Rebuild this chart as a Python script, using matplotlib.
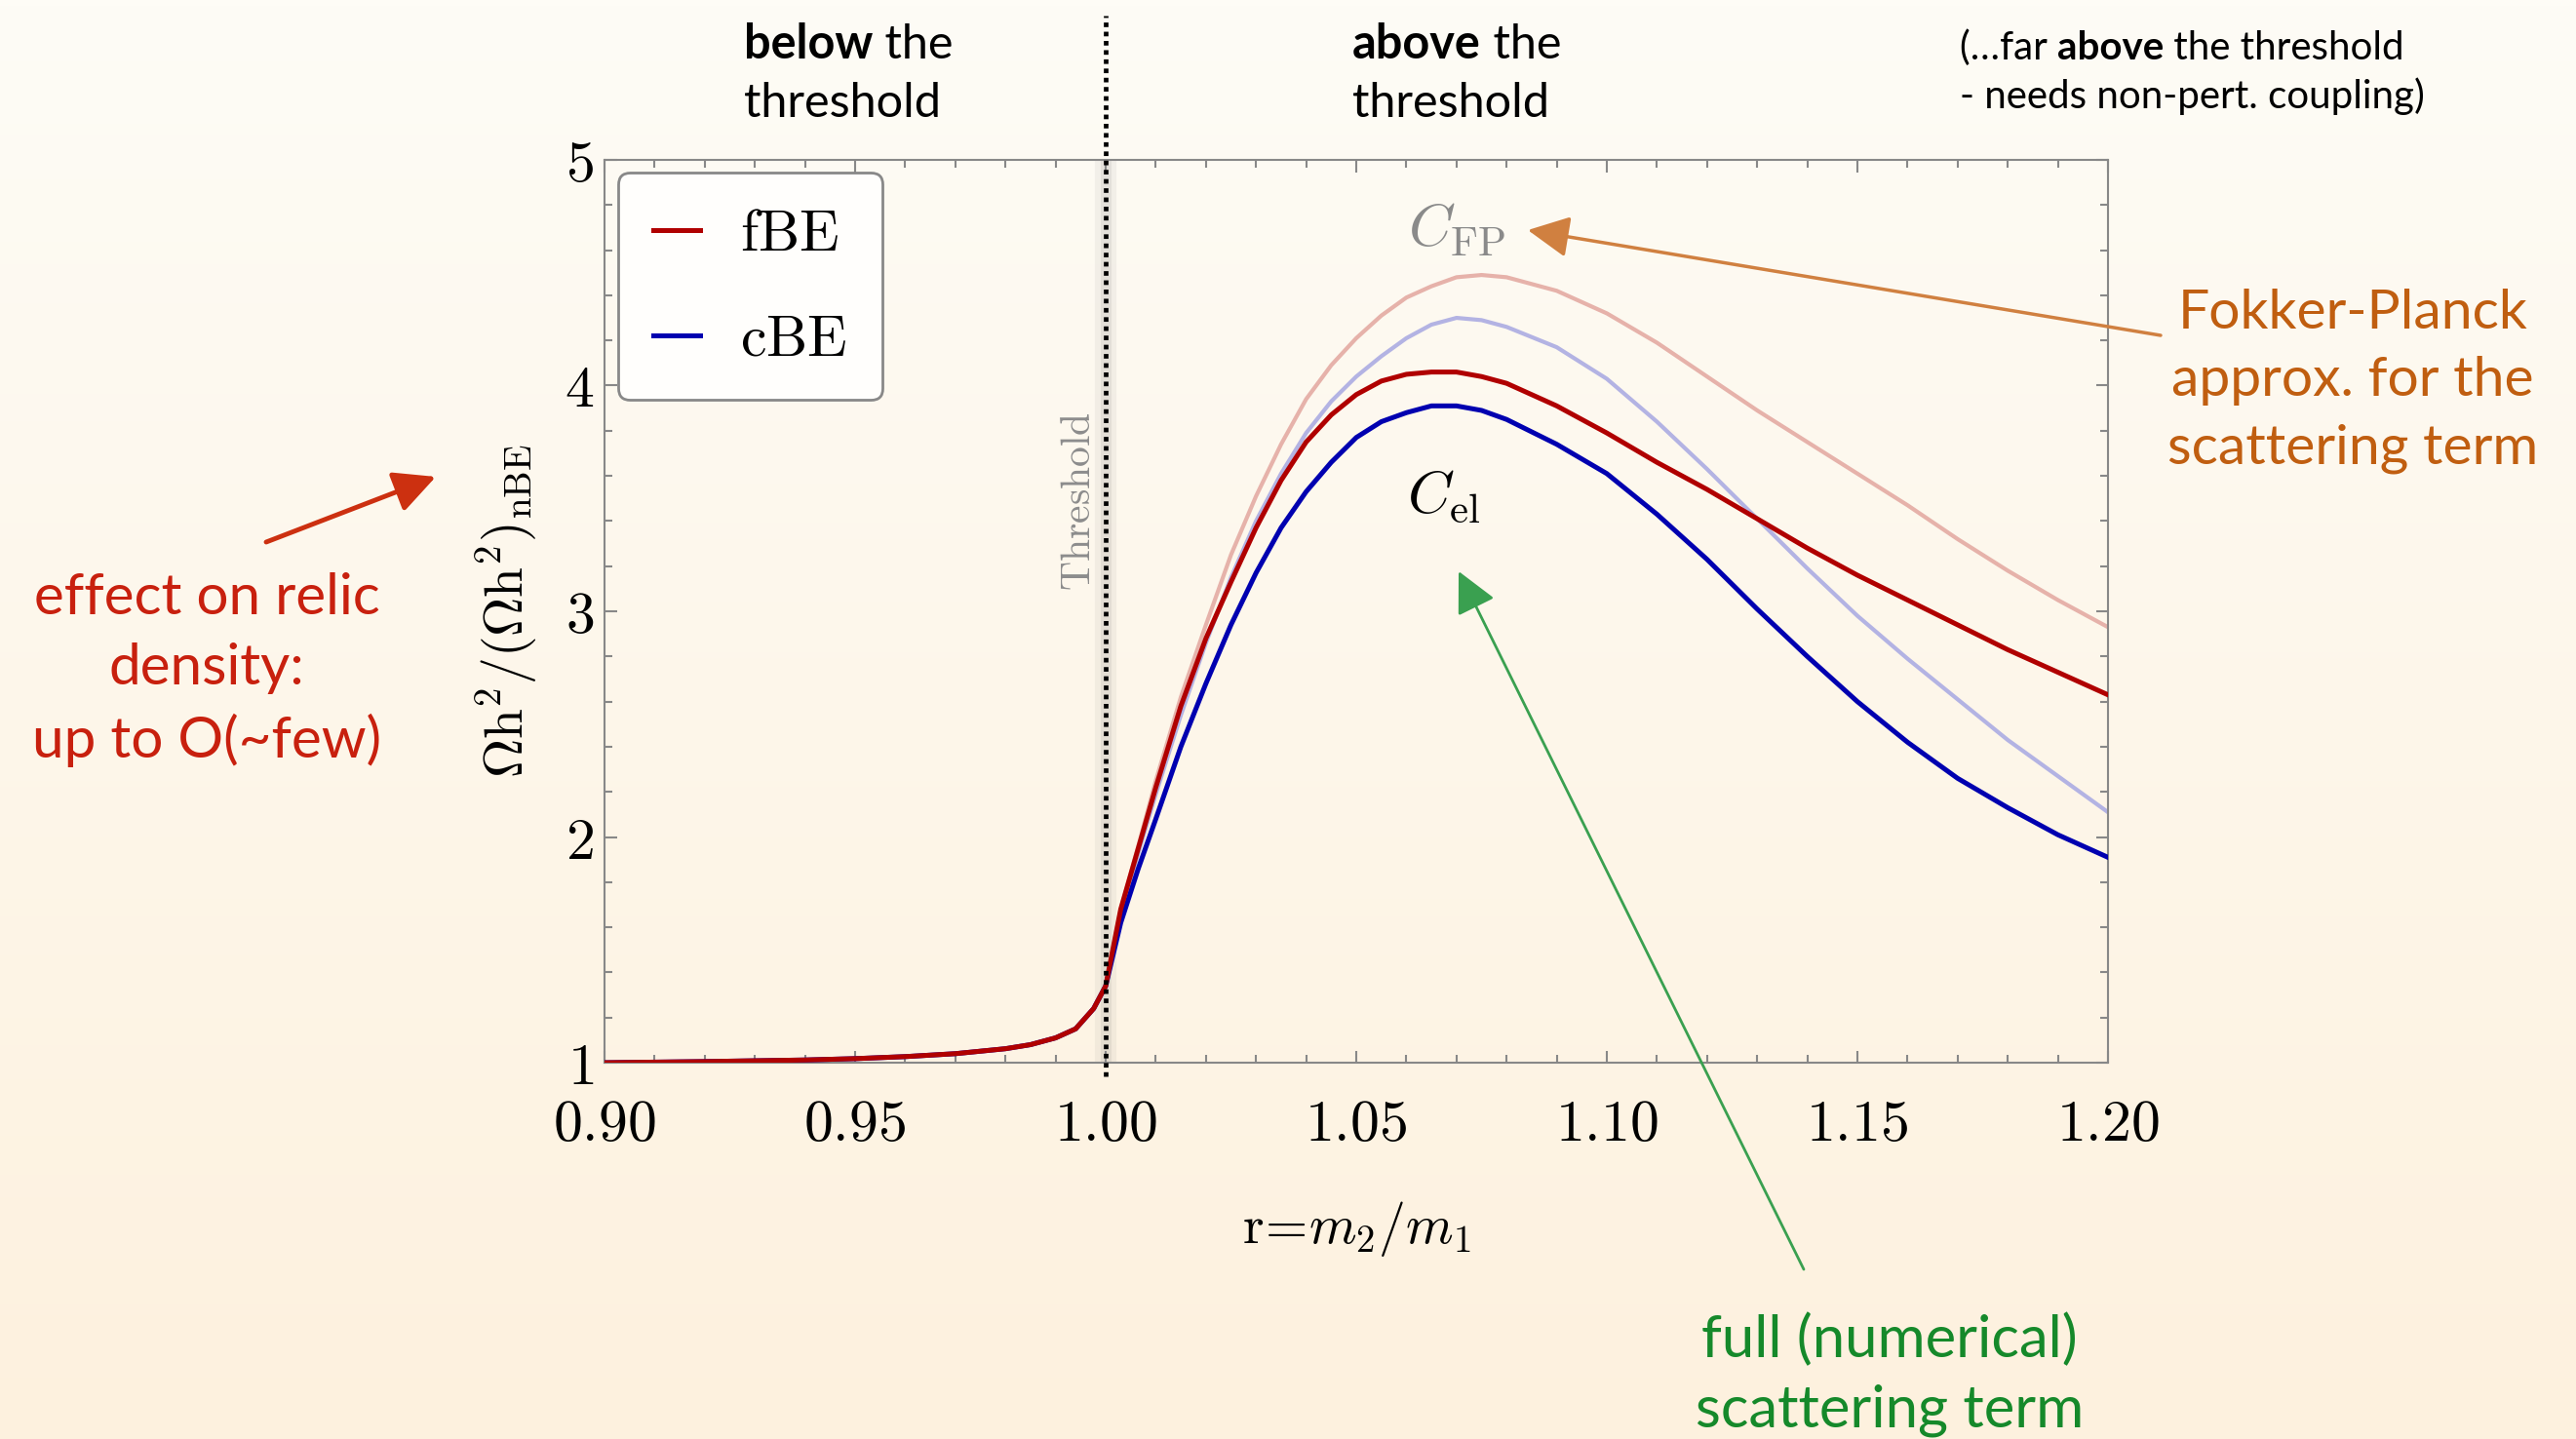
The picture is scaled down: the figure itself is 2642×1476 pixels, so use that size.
import numpy as np
import matplotlib
matplotlib.use("Agg")
import matplotlib.pyplot as plt
from matplotlib.lines import Line2D
from matplotlib.ticker import MultipleLocator, FormatStrFormatter

plt.rcParams['mathtext.fontset'] = 'cm'
plt.rcParams['font.family'] = ['Lato', 'DejaVu Sans']

# below the threshold all curves coincide
r_below = [0.90, 0.92, 0.94, 0.95, 0.96, 0.97, 0.98, 0.985, 0.99, 0.994, 0.9976, 1.000]
y_below = [1.00, 1.005, 1.012, 1.018, 1.027, 1.04, 1.062, 1.08, 1.11, 1.15, 1.24, 1.34]

# above the threshold
r_above = [1.003, 1.0065, 1.01, 1.015, 1.02, 1.025, 1.03, 1.035, 1.04, 1.045,
           1.05, 1.055, 1.06, 1.065, 1.07, 1.075, 1.08, 1.09, 1.10, 1.11,
           1.12, 1.13, 1.14, 1.15, 1.16, 1.17, 1.18, 1.19, 1.20]
fbe_el = [1.68, 1.95, 2.22, 2.58, 2.88, 3.13, 3.37, 3.58, 3.75, 3.87,
          3.96, 4.02, 4.05, 4.06, 4.06, 4.04, 4.01, 3.91, 3.79, 3.66,
          3.54, 3.41, 3.28, 3.16, 3.05, 2.94, 2.83, 2.73, 2.63]
cbe_el = [1.62, 1.86, 2.08, 2.40, 2.68, 2.94, 3.17, 3.37, 3.53, 3.66,
          3.77, 3.84, 3.88, 3.91, 3.91, 3.89, 3.85, 3.74, 3.61, 3.43,
          3.23, 3.01, 2.80, 2.60, 2.42, 2.26, 2.13, 2.01, 1.91]
fbe_fp = [1.68, 1.96, 2.25, 2.62, 2.94, 3.25, 3.51, 3.74, 3.94, 4.09,
          4.21, 4.31, 4.39, 4.44, 4.48, 4.49, 4.48, 4.42, 4.32, 4.19,
          4.04, 3.89, 3.75, 3.61, 3.47, 3.32, 3.18, 3.05, 2.93]
cbe_fp = [1.66, 1.93, 2.19, 2.54, 2.86, 3.15, 3.40, 3.61, 3.79, 3.93,
          4.04, 4.13, 4.21, 4.27, 4.30, 4.29, 4.26, 4.17, 4.03, 3.84,
          3.63, 3.41, 3.19, 2.98, 2.79, 2.61, 2.43, 2.27, 2.11]

x_ticks = [0.90, 0.95, 1.00, 1.05, 1.10, 1.15, 1.20]
y_ticks = [1, 2, 3, 4, 5]
legend_labels = [r'$\mathrm{fBE}$', r'$\mathrm{cBE}$']

RED = '#b00000'
BLUE = '#0000b0'
RED_L = '#e6b2aa'
BLUE_L = '#b3b3e3'

W, H = 2642, 1476
fig = plt.figure(figsize=(W / 100, H / 100), dpi=100)

# background gradient
bg = fig.add_axes([0, 0, 1, 1], zorder=-10)
top = np.array([254, 252, 246]) / 255
bot = np.array([253, 241, 222]) / 255
t = np.linspace(0, 1, 256)[:, None, None]
grad = top * (1 - t) + bot * t
bg.imshow(np.repeat(grad, 2, axis=1), aspect='auto', extent=[0, 1, 0, 1])
bg.axis('off')

ax = fig.add_axes([0.2347, 0.2615, 0.5836, 0.6274])
ax.set_facecolor('none')

r_fp = [1.000] + r_above
ax.plot(r_fp, [y_below[-1]] + fbe_fp, color=RED_L, lw=3.0, zorder=2)
ax.plot(r_fp, [y_below[-1]] + cbe_fp, color=BLUE_L, lw=3.0, zorder=2)
ax.plot(r_below + r_above, y_below + cbe_el, color=BLUE, lw=3.6, zorder=3)
ax.plot(r_below + r_above, y_below + fbe_el, color=RED, lw=3.6, zorder=4)

ax.set_xlim(0.90, 1.20)
ax.set_ylim(1, 5)
ax.set_xticks(x_ticks)
ax.set_yticks(y_ticks)
ax.xaxis.set_minor_locator(MultipleLocator(0.01))
ax.yaxis.set_minor_locator(MultipleLocator(0.2))
ax.xaxis.set_major_formatter(FormatStrFormatter('$%.2f$'))
ax.yaxis.set_major_formatter(FormatStrFormatter('$%d$'))
ax.tick_params(which='both', direction='in', top=True, right=True,
               color='#888888', width=1.5)
ax.tick_params(which='major', length=9, labelsize=43)
ax.tick_params(which='minor', length=5.5)
ax.tick_params(axis='x', which='major', pad=26)
ax.tick_params(axis='y', which='major', pad=8)
for s in ax.spines.values():
    s.set_color('#888888')
    s.set_linewidth(1.5)

ax.set_xlabel(r'$\mathrm{r}\!=\!m_2/m_1$', fontsize=40, labelpad=36)
ax.set_ylabel(r'$\Omega\mathrm{h}^2/(\Omega\mathrm{h}^2)_{\mathrm{nBE}}$',
              fontsize=40, labelpad=18)

# threshold line with soft shadow
ax.axvline(1.0, color='#777777', lw=16, alpha=0.08, zorder=1)
ax.axvline(1.0, color='#777777', lw=8, alpha=0.12, zorder=1)
ax.plot([1.0, 1.0], [-0.015, 1.16], color='black', lw=3.4,
        linestyle=(0, (1, 1)), transform=ax.get_xaxis_transform(),
        clip_on=False, zorder=5)
ax.text(0.9946, 3.49, r'$\mathrm{Threshold}$', rotation=90, color='#8c8c8c',
        ha='center', va='center', fontsize=30)

ax.text(1.070, 4.69, r'$C_{\mathrm{FP}}$', color='#8a8a8a', fontsize=44,
        ha='center', va='center')
ax.text(1.0675, 3.51, r'$C_{\mathrm{el}}$', color='black', fontsize=44,
        ha='center', va='center')

handles = [Line2D([], [], color=RED, lw=3.6), Line2D([], [], color=BLUE, lw=3.6)]
leg = ax.legend(handles, legend_labels, loc='upper left',
                bbox_to_anchor=(0.009, 0.986), borderaxespad=0, fontsize=43,
                handlelength=0.8, handletextpad=0.7, labelspacing=0.9,
                borderpad=0.6, fancybox=True, framealpha=1,
                facecolor='#fffefc', edgecolor='#888888')
leg.get_frame().set_linewidth(2)


def chain(x, y, parts, size):
    # a line of text made of pieces with different weights
    prev = fig.text(x, y, parts[0][0], fontsize=size, fontweight=parts[0][1],
                    ha='left', va='bottom')
    for txt, w in parts[1:]:
        prev = fig.add_artist(plt.Annotation(txt, xy=(1, 0), xycoords=prev,
                                             fontsize=size, fontweight=w,
                                             ha='left', va='bottom'))
    return prev


# header texts
chain(763 / W, 1 - 68 / H, [('below', 'bold'), (' the', 'normal')], 35)
fig.text(763 / W, 1 - 128 / H, 'threshold', fontsize=35, ha='left', va='bottom')
chain(1387 / W, 1 - 68 / H, [('above', 'bold'), (' the', 'normal')], 35)
fig.text(1387 / W, 1 - 128 / H, 'threshold', fontsize=35, ha='left', va='bottom')
chain(2010 / W, 1 - 68 / H,
      [('(\u2026far ', 'normal'), ('above', 'bold'), (' the threshold', 'normal')], 29)
fig.text(2010 / W, 1 - 118 / H, '- needs non-pert. coupling)', fontsize=29,
         ha='left', va='bottom')

# side annotations
fig.text(212 / W, 1 - 687 / H, 'effect on relic\ndensity:\nup to O(~few)',
         color='#c8200e', fontsize=42, ha='center', va='center',
         multialignment='center', linespacing=1.45)
fig.text(2413 / W, 1 - 391 / H, 'Fokker-Planck\napprox. for the\nscattering term',
         color='#c05e10', fontsize=41, ha='center', va='center',
         multialignment='center', linespacing=1.45)
fig.text(1938 / W, 1 - 1410 / H, 'full (numerical)\nscattering term',
         color='#15892a', fontsize=43, ha='center', va='center',
         multialignment='center', linespacing=1.4)

arrows = [((273, 556), (447, 489), '#cc3010', 3.5),
          ((2216, 344), (1567, 236), '#d08040', 2.5),
          ((1850, 1302), (1496, 586), '#3aa050', 2.0)]
for (x0, y0), (x1, y1), c, lw in arrows:
    ax.annotate('', xy=(x1 / W, 1 - y1 / H), xytext=(x0 / W, 1 - y0 / H),
                xycoords='figure fraction', textcoords='figure fraction',
                annotation_clip=False,
                arrowprops=dict(arrowstyle='-|>,head_length=1.3,head_width=0.65',
                                mutation_scale=20, color=c, lw=lw,
                                shrinkA=0, shrinkB=0))

fig.savefig('out.png', dpi=100)
